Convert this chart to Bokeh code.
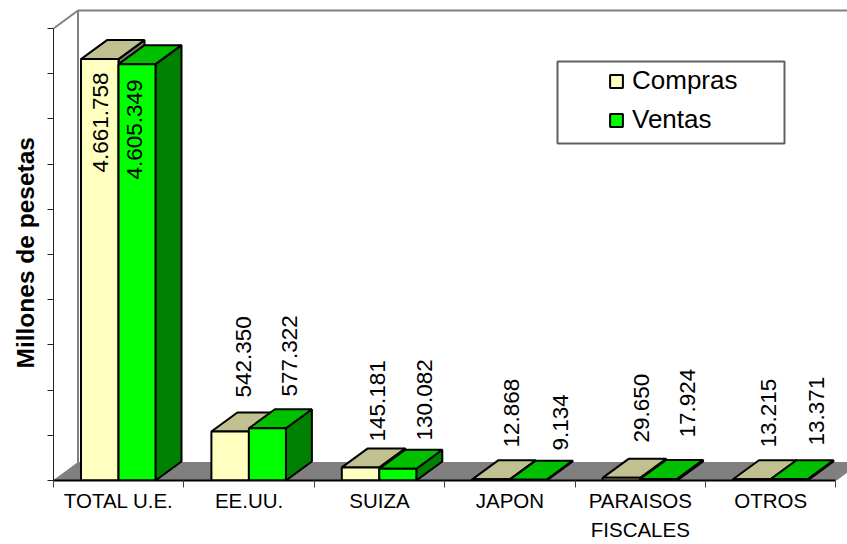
from math import pi
from bokeh.plotting import figure
from bokeh.models import (ColumnDataSource, Range1d, FixedTicker, Legend, LegendItem,
                          Title, BoxAnnotation)
from bokeh.core.properties import value
from bokeh.embed import file_html
from bokeh.resources import INLINE

# ---- data -------------------------------------------------------------
categories = ["TOTAL U.E.", "EE.UU.", "SUIZA", "JAPON", "PARAISOS\nFISCALES", "OTROS"]
compras = [4661758, 542350, 145181, 12868, 29650, 13215]
ventas = [4605349, 577322, 130082, 9134, 17924, 13371]
y_max = 5000000
y_step = 500000
y_title = "Millones de pesetas"

# ---- layout (pixels) ---------------------------------------------------
FONT = "Liberation Sans"
W, H = 847, 544
LEFT, BOTTOM = 53, 64
CAT_PX = 130.4
VAL_PX = 452 / y_max
frame_w, frame_h = W - LEFT, H - BOTTOM


def xu(px):
    return px / CAT_PX


def yu(px):
    return px / VAL_PX


BAR_START = 27.5
COMPRAS_W = 37.5
VENTAS_W = 37
DEPTH_X, DEPTH_Y = 26, 19
WALL_X, WALL_Y = 24.5, 18

# label anchor: centre x from category's left tick, bottom above the axis
label_dx_c = [47, 60, 63, 67, 66, 63]
label_dx_v = [81, 106, 110, 116, 112, 111]
label_up_c = [308, 83, 39, 33, 38, 33]
label_up_v = [301, 84, 40, 30, 43, 35]

p = figure(width=W, height=H, output_backend="svg", toolbar_location=None,
           x_range=Range1d(0, xu(frame_w)), y_range=Range1d(0, yu(frame_h)),
           min_border_left=LEFT, min_border_bottom=BOTTOM, min_border_top=0, min_border_right=0,
           background_fill_color="white", border_fill_color="white", outline_line_color=None)
p.grid.visible = False

# ---- walls and floor ---------------------------------------------------
n = len(categories)
far_x = xu(frame_w) + 1
p.patch([0, n, n + xu(WALL_X), xu(WALL_X)], [0, 0, yu(WALL_Y), yu(WALL_Y)],
        fill_color="#808080", line_color="#808080", line_width=1)
p.line([0, xu(WALL_X), xu(WALL_X)], [y_max, y_max + yu(WALL_Y), yu(WALL_Y)],
       line_color="#808080", line_width=2)
p.line([xu(WALL_X), far_x], [y_max + yu(WALL_Y), y_max + yu(WALL_Y)],
       line_color="#808080", line_width=2)


def draw_series(vals, start_px, width_px, front, top, side):
    x0 = [i + xu(start_px) for i in range(n)]
    x1 = [a + xu(width_px) for a in x0]
    dx, dy = xu(DEPTH_X), yu(DEPTH_Y)
    side_src = ColumnDataSource(dict(
        xs=[[b, b + dx, b + dx, b] for b in x1],
        ys=[[0, dy, v + dy, v] for v in vals]))
    top_src = ColumnDataSource(dict(
        xs=[[a, a + dx, b + dx, b] for a, b in zip(x0, x1)],
        ys=[[v, v + dy, v + dy, v] for v in vals]))
    front_src = ColumnDataSource(dict(left=x0, right=x1, top=vals, bottom=[0] * n))
    p.patches("xs", "ys", source=side_src, fill_color=side, line_color="black", line_width=2)
    p.patches("xs", "ys", source=top_src, fill_color=top, line_color="black", line_width=2)
    return p.quad(left="left", right="right", top="top", bottom="bottom", source=front_src,
                  fill_color=front, line_color="black", line_width=2)


r_c = draw_series(compras, BAR_START, COMPRAS_W, "#FFFFC0", "#C0C090", "#808060")
r_v = draw_series(ventas, BAR_START + COMPRAS_W, VENTAS_W, "#00FF00", "#00C000", "#008000")


# ---- value labels ------------------------------------------------------
def fmt(v):
    return f"{v:,}".replace(",", ".")


for vals, dxs, ups in ((compras, label_dx_c, label_up_c), (ventas, label_dx_v, label_up_v)):
    src = ColumnDataSource(dict(x=[i + xu(d) for i, d in enumerate(dxs)],
                                y=[yu(u) for u in ups],
                                t=[fmt(v) for v in vals]))
    p.text("x", "y", text="t", source=src, angle=pi / 2, text_align="left",
           text_baseline="middle", text_color="black",
           text_font=value(FONT), text_font_size="22.5px")

# ---- axes --------------------------------------------------------------
yticks = list(range(0, y_max + y_step, y_step))
ya = p.yaxis[0]
ya.ticker = FixedTicker(ticks=yticks)
ya.bounds = (0, y_max)
ya.major_label_overrides = {t: "" for t in yticks}
ya.major_tick_in = 0
ya.major_tick_out = 6
ya.minor_tick_line_color = None
ya.axis_line_color = "#202020"
ya.major_tick_line_color = "#202020"
ya.major_label_standoff = 0

xa = p.xaxis[0]
centers = [i + 0.5 for i in range(n)]
xa.ticker = FixedTicker(ticks=centers, minor_ticks=list(range(n + 1)))
xa.bounds = (0, n)
xa.major_label_overrides = dict(zip(centers, categories))
xa.major_tick_line_color = None
xa.major_tick_in = 0
xa.major_tick_out = 0
xa.minor_tick_in = 0
xa.minor_tick_out = 7
xa.minor_tick_line_color = "#404040"
xa.axis_line_color = "black"
xa.axis_line_width = 2
xa.major_label_standoff = 1
xa.major_label_text_font = FONT
xa.major_label_text_font_size = "20.5px"
xa.major_label_text_color = "black"
xa.major_label_text_line_height = 1.3

p.add_layout(Title(text=y_title, align="left", offset=112, standoff=17,
                   text_font=FONT, text_font_size="24.5px", text_font_style="bold",
                   text_color="black"), "left")

# ---- legend ------------------------------------------------------------
p.add_layout(BoxAnnotation(left=504, right=731, top=419, bottom=337,
                           left_units="screen", right_units="screen",
                           top_units="screen", bottom_units="screen",
                           fill_color=None, line_color="#606060", line_width=2,
                           line_alpha=1))
legend = Legend(items=[LegendItem(label="Compras", renderers=[r_c]),
                       LegendItem(label="Ventas", renderers=[r_v])],
                location=(555, 345), orientation="vertical",
                background_fill_color=None, border_line_color=None,
                label_text_font=FONT, label_text_font_size="26px", label_text_color="black",
                glyph_width=16, glyph_height=16, label_standoff=8, spacing=8, padding=6,
                margin=0)
p.add_layout(legend, "center")

open("out.html", "w").write(file_html(p, INLINE))
